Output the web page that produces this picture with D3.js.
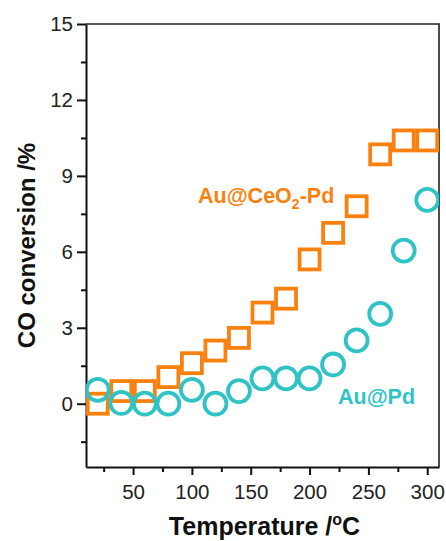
<!DOCTYPE html>
<html>
<head>
<meta charset="utf-8">
<script src="https://cdn.jsdelivr.net/npm/d3@7"></script>
<style>
  html, body { margin: 0; padding: 0; background: #fff; }
  svg { display: block; font-family: "Liberation Sans", Arial, sans-serif; }
</style>
</head>
<body>
<svg id="chart" width="446" height="541"></svg>
<script>
// Reaction temperatures (°C)
const temperatures = [20, 40, 60, 80, 100, 120, 140, 160, 180, 200, 220, 240, 260, 280, 300];
// CO conversion (%) for each catalyst
const auCeO2Pd = [0, 0.5, 0.5, 1.05, 1.6, 2.1, 2.6, 3.6, 4.15, 5.7, 6.75, 7.8, 9.85, 10.4, 10.4];
const auPd = [0.55, 0.03, 0, 0, 0.55, 0, 0.5, 1.0, 1.0, 1.0, 1.55, 2.5, 3.55, 6.05, 8.05];
// Axis ticks
const xMajorTicks = [50, 100, 150, 200, 250, 300];
const xMinorTicks = [25, 75, 125, 175, 225, 275];
const yMajorTicks = [0, 3, 6, 9, 12, 15];
const yMinorTicks = [-1.5, 1.5, 4.5, 7.5, 10.5, 13.5];

const orange = "#fb810f";
const teal = "#2fc3c6";

const svg = d3.select("#chart");
const margin = { top: 24, right: 7, bottom: 74, left: 86 };
const W = 446, H = 541;
const x = d3.scaleLinear().domain([10, 310]).range([margin.left, W - margin.right]);
const y = d3.scaleLinear().domain([-2.5, 15]).range([H - margin.bottom, margin.top]);

// clip region for the markers
svg.append("defs").append("clipPath").attr("id", "plot-clip")
  .append("rect")
  .attr("x", x.range()[0]).attr("y", y.range()[1] - 20)
  .attr("width", x.range()[1] - x.range()[0])
  .attr("height", y.range()[0] - y.range()[1] + 40);

// frame (top and right edges)
svg.append("path")
  .attr("d", `M${x.range()[0]},${y.range()[1]}H${x.range()[1]}V${y.range()[0]}`)
  .attr("fill", "none").attr("stroke", "#222").attr("stroke-width", 1.6);

// x axis
svg.append("g").attr("transform", `translate(0,${y.range()[0]})`)
  .call(d3.axisBottom(x).tickValues(xMajorTicks).tickSize(8).tickPadding(9).tickSizeOuter(0));
svg.append("g").attr("transform", `translate(0,${y.range()[0]})`)
  .call(d3.axisBottom(x).tickValues(xMinorTicks).tickSize(5).tickFormat("").tickSizeOuter(0))
  .call(g => g.select(".domain").remove());

// y axis
svg.append("g").attr("transform", `translate(${x.range()[0]},0)`)
  .call(d3.axisLeft(y).tickValues(yMajorTicks).tickSize(9).tickPadding(4).tickSizeOuter(0));
svg.append("g").attr("transform", `translate(${x.range()[0]},0)`)
  .call(d3.axisLeft(y).tickValues(yMinorTicks).tickSize(5).tickFormat("").tickSizeOuter(0))
  .call(g => g.select(".domain").remove());

svg.selectAll(".domain").attr("stroke", "#111").attr("stroke-width", 2);
svg.selectAll(".tick line").attr("stroke", "#111").attr("stroke-width", 2);
svg.selectAll(".tick text").attr("font-size", 20.5).attr("fill", "#222")
  .attr("font-family", "'Liberation Sans', Arial, sans-serif");

// markers
const marks = svg.append("g").attr("clip-path", "url(#plot-clip)");
const side = 20;
marks.selectAll("rect.sq").data(temperatures.map((t, i) => [t, auCeO2Pd[i]]))
  .join("rect").attr("class", "sq")
  .attr("x", d => x(d[0]) - side / 2).attr("y", d => y(d[1]) - side / 2)
  .attr("width", side).attr("height", side)
  .attr("fill", "none").attr("stroke", orange).attr("stroke-width", 3.8);

marks.selectAll("circle.ci").data(temperatures.map((t, i) => [t, auPd[i]]))
  .join("circle").attr("class", "ci")
  .attr("cx", d => x(d[0])).attr("cy", d => y(d[1])).attr("r", 11)
  .attr("fill", "none").attr("stroke", teal).attr("stroke-width", 3.8);

// series labels
const lab1 = svg.append("text").attr("x", 198).attr("y", 203)
  .attr("font-size", 21.5).attr("font-weight", "bold").attr("fill", orange);
lab1.append("tspan").text("Au@CeO");
lab1.append("tspan").text("2").attr("font-size", 14).attr("dy", 6);
lab1.append("tspan").text("-Pd").attr("dy", -6);

svg.append("text").attr("x", 338).attr("y", 404)
  .attr("font-size", 21.5).attr("font-weight", "bold").attr("fill", teal)
  .text("Au@Pd");

// axis titles
const xt = svg.append("text").attr("x", (x.range()[0] + x.range()[1]) / 2 + 2).attr("y", 535)
  .attr("text-anchor", "middle").attr("font-size", 25).attr("font-weight", "bold").attr("fill", "#111");
xt.append("tspan").text("Temperature /");
xt.append("tspan").text("o").attr("font-size", 16).attr("dy", -10);
xt.append("tspan").text("C").attr("dy", 10);

svg.append("text")
  .attr("transform", `translate(35,${(y.range()[0] + y.range()[1]) / 2}) rotate(-90)`)
  .attr("text-anchor", "middle").attr("font-size", 24).attr("font-weight", "bold").attr("fill", "#111")
  .text("CO conversion /%");
</script>
</body>
</html>
